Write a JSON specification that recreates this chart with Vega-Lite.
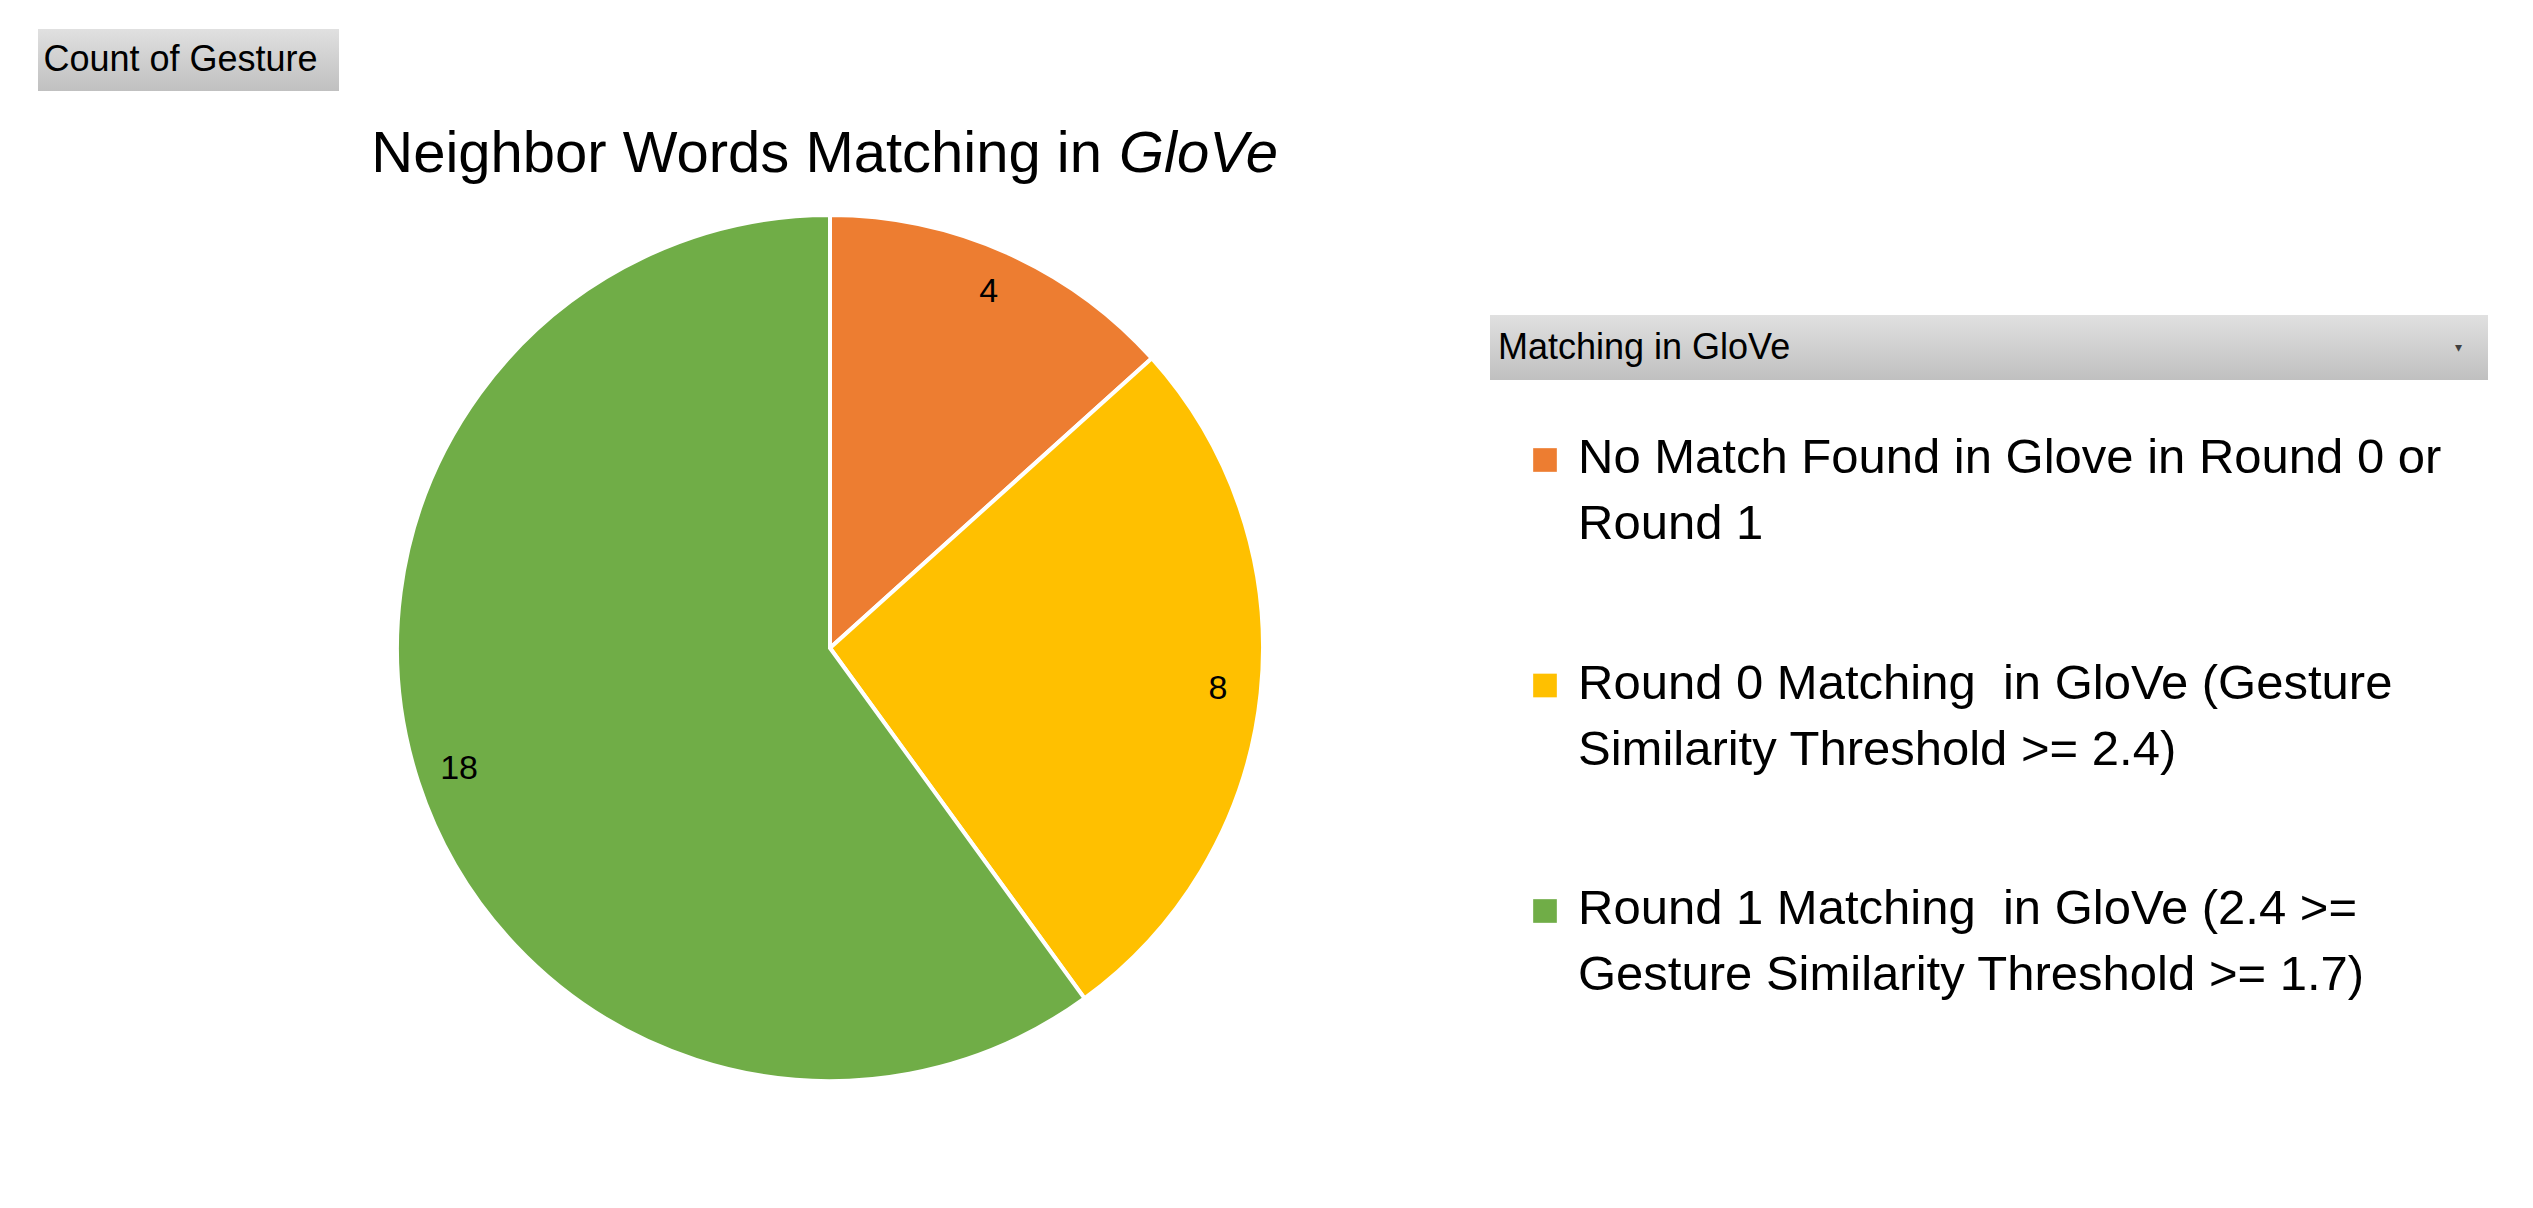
{
  "$schema": "https://vega.github.io/schema/vega-lite/v6.json",
  "padding": {"left": 38, "top": 29, "right": 0, "bottom": 0},
  "background": "white",
  "config": {
    "view": {"stroke": null},
    "font": "Liberation Sans",
    "legend": {"disable": true}
  },
  "datasets": {
    "slices": [
      {"category": "No Match Found in Glove in Round 0 or Round 1", "count": 4, "lines": ["No Match Found in Glove in Round 0 or", "Round 1"]},
      {"category": "Round 0 Matching  in GloVe (Gesture Similarity Threshold >= 2.4)", "count": 8, "lines": ["Round 0 Matching\u00a0 in GloVe (Gesture", "Similarity Threshold >= 2.4)"]},
      {"category": "Round 1 Matching  in GloVe (2.4 >= Gesture Similarity Threshold >= 1.7)", "count": 18, "lines": ["Round 1 Matching\u00a0 in GloVe (2.4 >=", "Gesture Similarity Threshold >= 1.7)"]}
    ]
  },
  "bounds": "flush",
  "spacing": 58,
  "hconcat": [
    {
      "width": 301,
      "height": 62,
      "view": {"stroke": null, "fill": {"gradient": "linear", "x1": 0, "y1": 0, "x2": 0, "y2": 1, "stops": [{"offset": 0, "color": "#e0e0e0"}, {"offset": 1, "color": "#c0c0c0"}]}},
      "data": {"values": [{"label": "Count of Gesture"}]},
      "mark": {"type": "text", "fontSize": 36, "font": "Liberation Sans", "color": "black", "baseline": "middle", "dx": -8},
      "encoding": {"text": {"field": "label", "type": "nominal"}}
    },
    {
      "bounds": "flush",
      "spacing": 0,
      "vconcat": [
        {
          "width": 866,
          "height": 286,
          "layer": [
            {
              "data": {"values": [{"label": "Neighbor Words Matching in"}]},
              "mark": {"type": "text", "align": "right", "dx": 272, "fontSize": 58, "font": "Liberation Sans", "color": "black", "baseline": "alphabetic"},
              "encoding": {"text": {"field": "label", "type": "nominal"}}
            },
            {
              "data": {"values": [{"label": "GloVe"}]},
              "mark": {"type": "text", "align": "left", "dx": 289, "fontSize": 58, "font": "Liberation Sans", "fontStyle": "italic", "color": "black", "baseline": "alphabetic"},
              "encoding": {"text": {"field": "label", "type": "nominal"}}
            }
          ]
        },
        {
          "bounds": "flush",
          "spacing": 227,
          "hconcat": [
            {
              "width": 866,
              "height": 666,
              "data": {"name": "slices"},
              "encoding": {
                "theta": {"field": "count", "type": "quantitative", "stack": true},
                "color": {
                  "field": "category",
                  "type": "nominal",
                  "legend": null,
                  "scale": {
                    "domain": [
                      "No Match Found in Glove in Round 0 or Round 1",
                      "Round 0 Matching  in GloVe (Gesture Similarity Threshold >= 2.4)",
                      "Round 1 Matching  in GloVe (2.4 >= Gesture Similarity Threshold >= 1.7)"
                    ],
                    "range": ["#ED7D31", "#FFC000", "#70AD47"]
                  }
                }
              },
              "layer": [
                {"mark": {"type": "arc", "outerRadius": 433, "stroke": "white", "strokeWidth": 4}},
                {
                  "mark": {"type": "text", "radius": 390, "fontSize": 34, "font": "Liberation Sans", "baseline": "middle"},
                  "encoding": {
                    "text": {"field": "count", "type": "quantitative"},
                    "color": {"value": "black"}
                  }
                }
              ]
            },
            {
              "bounds": "flush",
              "spacing": 80,
              "vconcat": [
                {
                  "width": 998,
                  "height": 65,
                  "view": {"stroke": null, "fill": {"gradient": "linear", "x1": 0, "y1": 0, "x2": 0, "y2": 1, "stops": [{"offset": 0, "color": "#e0e0e0"}, {"offset": 1, "color": "#c0c0c0"}]}},
                  "layer": [
                    {
                      "data": {"values": [{"label": "Matching in GloVe"}]},
                      "mark": {"type": "text", "align": "left", "dx": 8, "fontSize": 36, "font": "Liberation Sans", "color": "black", "baseline": "middle"},
                      "encoding": {
                        "x": {"field": "label", "type": "nominal", "axis": null, "scale": {"type": "point", "padding": 0, "domain": ["Matching in GloVe", "▾"]}},
                        "text": {"field": "label", "type": "nominal"}
                      }
                    },
                    {
                      "data": {"values": [{"label": "▾"}]},
                      "mark": {"type": "text", "align": "right", "dx": -26, "fontSize": 14, "font": "DejaVu Sans", "color": "#404040", "baseline": "middle"},
                      "encoding": {
                        "x": {"field": "label", "type": "nominal", "axis": null, "scale": {"type": "point", "padding": 0, "domain": ["Matching in GloVe", "▾"]}},
                        "text": {"field": "label", "type": "nominal"}
                      }
                    }
                  ]
                },
                {
                  "width": 110,
                  "height": 451,
                  "data": {"name": "slices"},
                  "encoding": {
                    "y": {"field": "category", "type": "nominal", "axis": null, "scale": {"type": "point", "padding": 0}}
                  },
                  "layer": [
                    {
                      "mark": {"type": "square", "size": 560, "opacity": 1},
                      "encoding": {
                        "color": {
                          "field": "category",
                          "type": "nominal",
                          "legend": null,
                          "scale": {
                            "domain": [
                              "No Match Found in Glove in Round 0 or Round 1",
                              "Round 0 Matching  in GloVe (Gesture Similarity Threshold >= 2.4)",
                              "Round 1 Matching  in GloVe (2.4 >= Gesture Similarity Threshold >= 1.7)"
                            ],
                            "range": ["#ED7D31", "#FFC000", "#70AD47"]
                          }
                        }
                      }
                    },
                    {
                      "mark": {"type": "text", "align": "left", "dx": 33, "dy": 13, "fontSize": 49, "lineHeight": 66, "font": "Liberation Sans", "color": "black", "baseline": "alphabetic"},
                      "encoding": {"text": {"field": "lines", "type": "nominal"}}
                    }
                  ]
                }
              ]
            }
          ]
        }
      ]
    }
  ]
}
